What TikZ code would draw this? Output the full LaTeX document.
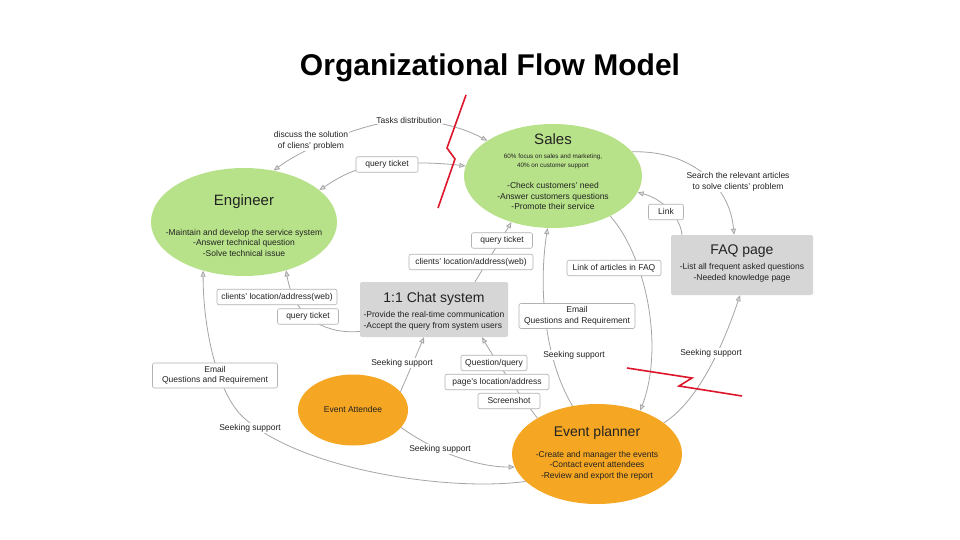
\documentclass[tikz,border=0pt]{standalone}
\usepackage{fontspec}
\setmainfont{Liberation Sans}
\usetikzlibrary{shapes.geometric,arrows.meta}
\definecolor{cgreen}{RGB}{183,226,137}
\definecolor{corange}{RGB}{245,166,35}
\definecolor{cgraybox}{RGB}{214,214,214}
\definecolor{cline}{RGB}{165,165,165}
\definecolor{lborder}{RGB}{178,178,178}
\definecolor{cred}{RGB}{222,22,44}
\definecolor{ctext}{RGB}{34,34,34}
\tikzset{
  gtip/.tip={Triangle[length=6pt,width=5pt,fill=cline!35]},
  conn/.style={draw=cline, line width=0.8pt, -gtip},
  both/.style={draw=cline, line width=0.8pt, gtip-gtip},
  greenell/.style={ellipse, fill=cgreen, inner sep=0pt},
  orangeell/.style={ellipse, fill=corange, inner sep=0pt},
  graybox/.style={rectangle, fill=cgraybox, rounded corners=2pt, inner sep=0pt},
  ntitle/.style={font=\fontsize{15}{17}\selectfont, text=ctext, inner sep=0pt},
  nbody/.style={font=\fontsize{8.5}{10.5}\selectfont, text=ctext, inner sep=0pt, align=center},
  lbox/.style={draw=lborder, fill=white, rounded corners=2pt, line width=0.6pt,
    font=\fontsize{8.5}{10.5}\selectfont, text=ctext, inner xsep=2pt, inner ysep=0pt,
    text height=6.3pt, text depth=1.9pt, minimum height=15.5pt},
  lbox2/.style={draw=lborder, fill=white, rounded corners=2pt, line width=0.6pt,
    font=\fontsize{8.5}{10.5}\selectfont, text=ctext, inner xsep=2pt, inner ysep=2.5pt,
    minimum height=25pt, align=center},
  ltext/.style={fill=white, font=\fontsize{8.5}{10.5}\selectfont, text=ctext, inner sep=1pt, align=center},
  redline/.style={draw=cred, line width=1.6pt},
}
\begin{document}
\begin{tikzpicture}[x=1pt,y=-1pt]
\useasboundingbox (0,0) rectangle (960,540);
\fill[white] (0,0) rectangle (960,540);

% title
\node[anchor=base, font=\fontsize{30}{36}\selectfont\bfseries, inner sep=0pt] (title) at (490,76) {Organizational Flow Model};

% main nodes
\node[greenell, minimum width=186pt, minimum height=108pt] (eng) at (244,222) {};
\node[ntitle] (engT) at (244,202) {Engineer};
\node[nbody] (engB) at (244,242.5) {-Maintain and develop the service system\\-Answer technical question\\-Solve technical issue};

\node[greenell, minimum width=178pt, minimum height=104pt] (sales) at (553,176) {};
\node[ntitle] (salesT) at (553,139) {Sales};
\node[nbody, font=\fontsize{6.3}{8.7}\selectfont] (salesS) at (553,161.5) {60\% focus on sales and marketing,\\40\% on customer support};
\node[nbody] (salesB) at (553,196) {-Check customers' need\\-Answer customers questions\\-Promote their service};

\node[graybox, minimum width=142pt, minimum height=60pt] (faq) at (742,265) {};
\node[ntitle, font=\fontsize{14}{16}\selectfont] (faqT) at (742,251) {FAQ page};
\node[nbody] (faqB) at (742,273) {-List all frequent asked questions\\-Needed knowledge page};

\node[graybox, minimum width=148pt, minimum height=55pt] (chat) at (434,309.5) {};
\node[ntitle, font=\fontsize{14}{16}\selectfont] (chatT) at (434,299) {1:1 Chat system};
\node[nbody, align=left] (chatB) at (434,321) {-Provide the real-time communication\\-Accept the query from system users};

\node[orangeell, minimum width=110pt, minimum height=71pt] (att) at (353,410) {};
\node[nbody] (attT) at (353,409) {Event Attendee};

\node[orangeell, minimum width=170pt, minimum height=100pt] (ep) at (597,454) {};
\node[ntitle, font=\fontsize{14}{16}\selectfont] (epT) at (597,433) {Event planner};
\node[nbody] (epB) at (597,465.5) {-Create and manager the events\\-Contact event attendees\\-Review and export the report};

% connectors
\draw[both] (sales) .. controls (460,126) and (430,120) .. (408,120) .. controls (370,120) and (305,147) .. (eng.60);
\draw[both] (sales) .. controls (440,163) and (415,162) .. (386,164) .. controls (355,166) and (335,180) .. (eng.23);
\draw[conn] ([xshift=41pt]chat.north) -- (sales.228);
\draw[conn] ([yshift=-22pt]chat.west) .. controls (330,334) and (295,322) .. (eng.311);
\draw[conn] (ep.201) .. controls (450,492) and (300,470) .. (243,417) .. controls (218,394) and (203,330) .. (eng.230);
\draw[conn] (att.21) -- ([xshift=-10pt]chat.south);
\draw[conn] (att.340) .. controls (440,455) and (480,467) .. (ep.189);
\draw[conn] (ep.149) .. controls (520,395) and (495,360) .. ([xshift=48pt]chat.south);
\draw[conn] (ep.117) .. controls (545,360) and (538,290) .. (sales.264);
\draw[conn] (sales.325) .. controls (645,255) and (665,345) .. (ep.45);
\draw[conn] ([xshift=-60pt]faq.north) .. controls (680,215) and (660,198) .. (sales.349);
\draw[conn] (sales.17) .. controls (690,150) and (730,185) .. ([xshift=-8pt]faq.north);
\draw[conn] (ep.25) .. controls (700,400) and (725,340) .. ([xshift=-2pt]faq.south);

% labels
\node[ltext] (tasks) at (409,120) {Tasks distribution};
\node[ltext] (disc) at (311,141) {discuss the solution\\of cliens' problem};
\node[ltext] (search) at (738,182) {Search the relevant articles\\to solve clients' problem};
\node[lbox, minimum width=62pt] (qt1) at (387,164.5) {query ticket};
\node[lbox, minimum width=61pt] (qt2) at (502,240.5) {query ticket};
\node[lbox, minimum width=124pt] (cl1) at (471,262) {clients' location/address(web)};
\node[lbox, minimum width=120pt] (cl2) at (277,297) {clients' location/address(web)};
\node[lbox, minimum width=61pt] (qt3) at (308,316.5) {query ticket};
\node[lbox2, minimum width=125pt] (em1) at (215,375.5) {Email\\Questions and Requirement};
\node[lbox2, minimum width=116pt] (em2) at (577,316) {Email\\Questions and Requirement};
\node[lbox, minimum width=35pt] (link) at (666,212) {Link};
\node[lbox, minimum width=94pt] (lfaq) at (614,268) {Link of articles in FAQ};
\node[lbox, minimum width=66pt] (qq) at (494,363) {Question/query};
\node[lbox, minimum width=104pt] (pla) at (497,382) {page's location/address};
\node[lbox, minimum width=62pt] (shot) at (509,401) {Screenshot};
\node[ltext] (ss1) at (402,363) {Seeking support};
\node[ltext] (ss2) at (440,449) {Seeking support};
\node[ltext] (ss3) at (250,428) {Seeking support};
\node[ltext] (ss4) at (574,355) {Seeking support};
\node[ltext] (ss5) at (711,353) {Seeking support};

% red zigzags
\draw[redline] (466,95) -- (447,148) -- (455,159) -- (438,208);
\draw[redline] (627,368) -- (692,378) -- (679,386) -- (742,396);
\end{tikzpicture}
\end{document}
